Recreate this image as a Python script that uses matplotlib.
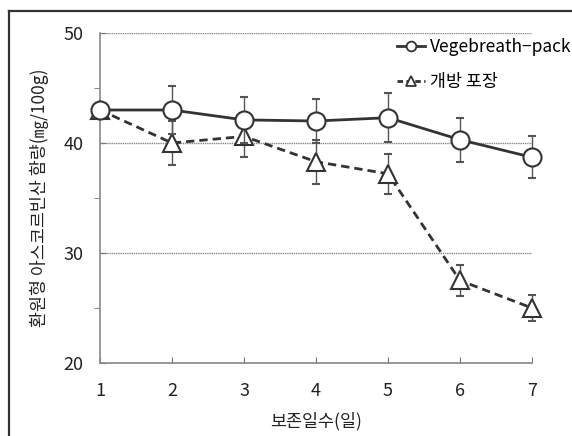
import matplotlib
matplotlib.use("Agg")
import matplotlib.pyplot as plt
from matplotlib.lines import Line2D

plt.rcParams['font.family'] = ['Noto Sans CJK KR', 'DejaVu Sans']

days = [1, 2, 3, 4, 5, 6, 7]
vege = [43.0, 43.0, 42.1, 42.0, 42.3, 40.3, 38.7]
vege_err = [0.0, 2.2, 2.1, 2.0, 2.2, 2.0, 1.9]
open_pack = [43.0, 40.0, 40.6, 38.3, 37.2, 27.5, 25.0]
open_err = [0.0, 2.0, 1.9, 2.0, 1.8, 1.4, 1.2]
yticks = [20, 30, 40, 50]
labels = ['Vegebreath\u2212pack', '개방 포장']

fig = plt.figure(figsize=(5.72, 4.36), dpi=100)
ax = fig.add_axes([100 / 572, 73 / 436, 432 / 572, 330 / 436])

# outer frame (top and left only)
fig.add_artist(Line2D([9 / 572, 9 / 572], [0, 1 - 11 / 436], transform=fig.transFigure,
                      color='#333333', lw=1.6))
fig.add_artist(Line2D([9 / 572, 1.0], [1 - 11 / 436, 1 - 11 / 436], transform=fig.transFigure,
                      color='#333333', lw=1.6))

for y in [30, 40, 50]:
    ax.axhline(y, color='#888888', lw=1.0, ls=(0, (1, 0.6)), zorder=1)

ax.errorbar(days, vege, yerr=vege_err, color='#333333', lw=2.0, marker='o', ms=13,
            mfc='white', mec='#333333', mew=1.5, ecolor='#555555', elinewidth=1.0,
            capsize=3, zorder=4, clip_on=False)
ax.errorbar(days, open_pack, yerr=open_err, color='#333333', lw=2.0, ls=(0, (3, 1.8)),
            marker='^', ms=13, mfc='white', mec='#333333', mew=1.5, ecolor='#555555',
            elinewidth=1.0, capsize=3, zorder=3, clip_on=False)

ax.set_xlim(1, 7)
ax.set_ylim(20, 50)
ax.set_xticks(days)
ax.set_yticks(yticks)
ax.set_yticks([25, 35, 45], minor=True)
ax.tick_params(axis='both', direction='in', length=4, color='#777777', labelsize=13,
               labelcolor='#222222')
ax.tick_params(axis='y', which='minor', direction='out', length=4, color='#777777')
ax.tick_params(axis='x', pad=14)
ax.tick_params(axis='y', pad=12)
for s in ['top', 'right']:
    ax.spines[s].set_visible(False)
for s in ['left', 'bottom']:
    ax.spines[s].set_color('#888888')
    ax.spines[s].set_linewidth(1.2)

ax.set_xlabel('보존일수(일)', fontsize=12.5, color='#222222', labelpad=8)
ax.set_ylabel('환원형 아스코르빈산 함량(㎎/100g)', fontsize=12.5, color='#222222', labelpad=10)

handles = [
    Line2D([], [], color='#333333', lw=2.0, marker='o', ms=7, mfc='white', mew=1.3),
    Line2D([], [], color='#333333', lw=2.0, ls=(0, (2, 1.2)), marker='^', ms=7,
           mfc='white', mew=1.3),
]
leg = ax.legend(handles, labels, loc='upper right', bbox_to_anchor=(1.1, 0.995), frameon=True,
                fontsize=12.5, handlelength=1.6, handletextpad=0.3, labelspacing=1.0,
                borderpad=0.2, borderaxespad=0)
leg.get_frame().set_facecolor('white')
leg.get_frame().set_edgecolor('white')
leg.get_frame().set_alpha(1)
leg.set_zorder(5)

fig.savefig('out.png', dpi=100)
